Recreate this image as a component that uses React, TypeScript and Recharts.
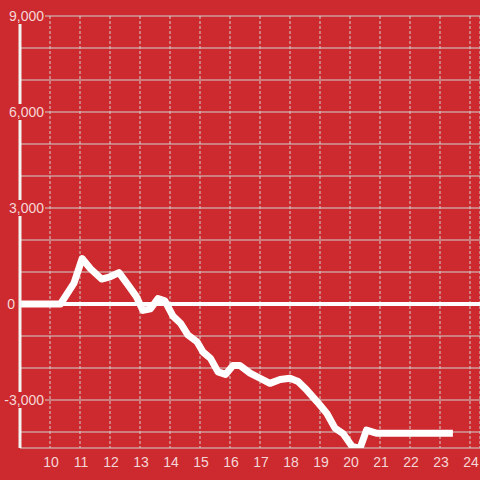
import React from 'react';
import { LineChart, Line, XAxis, YAxis, CartesianGrid, ReferenceLine } from 'recharts';

const xValues = [9, 10.35, 10.8, 11.07, 11.35, 11.72, 12.0, 12.3, 12.6, 12.88, 13.1, 13.35, 13.6, 13.83, 14.1, 14.35, 14.6, 14.9, 15.1, 15.35, 15.6, 15.85, 16.1, 16.33, 16.67, 17.0, 17.33, 17.67, 18.0, 18.27, 18.56, 18.9, 19.23, 19.5, 19.77, 20.07, 20.33, 20.55, 20.9, 23.43];
const yValues = [0, 0, 650, 1420, 1100, 780, 850, 980, 600, 230, -200, -150, 170, 100, -380, -600, -970, -1180, -1500, -1700, -2120, -2200, -1920, -1920, -2160, -2320, -2480, -2360, -2320, -2420, -2690, -3050, -3420, -3880, -4050, -4450, -4520, -3940, -4040, -4040];
const xTicks = [10, 11, 12, 13, 14, 15, 16, 17, 18, 19, 20, 21, 22, 23, 24];
const yGridTicks = [-4000, -3000, -2000, -1000, 0, 1000, 2000, 3000, 4000, 5000, 6000, 7000, 8000, 9000];
const yLabelTicks = [-3000, 0, 3000, 6000, 9000];

const data = xValues.map((x, i) => ({ x, v: yValues[i] }));

const BG = '#cc2a2e';
const TEXT = '#f5d6d6';
const GRID = '#d2d2d2';

const fmt = (v: number) => v.toLocaleString('en-US');

const YTick = (props: any) => {
  const { x, y, payload } = props;
  const v = payload.value;
  if (!yLabelTicks.includes(v)) return null;
  if (v === 0) {
    return (
      <text x={x - 5} y={y + 5} textAnchor="end" fill={TEXT} fontSize={14} fontFamily="Liberation Sans, Arial, sans-serif">0</text>
    );
  }
  return (
    <g>
      <rect x={x - 18} y={y - 8} width={43} height={16} fill={BG} />
      <text x={x + 24} y={y + 5} textAnchor="end" fill={TEXT} fontSize={14} fontFamily="Liberation Sans, Arial, sans-serif">{fmt(v)}</text>
    </g>
  );
};

const XTick = (props: any) => {
  const { x, y, payload } = props;
  return (
    <text x={x + 1} y={y + 19} textAnchor="middle" fill={TEXT} fontSize={14} fontFamily="Liberation Sans, Arial, sans-serif">{payload.value}</text>
  );
};

export default function App() {
  return (
    <div style={{ position: 'fixed', left: 0, top: 0, width: 480, height: 480, background: BG }}>
      <LineChart width={480} height={480} data={data} margin={{ top: 16, right: 0, left: 0, bottom: 0 }}>
        <CartesianGrid horizontal={true} vertical={false} stroke={GRID} strokeWidth={1} />
        <CartesianGrid horizontal={false} vertical={true} stroke={GRID} strokeWidth={1} strokeDasharray="3 2" />
        <XAxis dataKey="x" type="number" domain={[9, 24.3333]} ticks={xTicks} axisLine={false} tickLine={false} tickSize={0} tickMargin={0} height={32} tick={<XTick />} interval={0} allowDataOverflow />
        <YAxis type="number" domain={[-4500, 9000]} ticks={yGridTicks} width={20} axisLine={{ stroke: '#f2f2f2', strokeWidth: 3 }} tickLine={false} tickSize={0} tickMargin={0} tick={<YTick />} interval={0} allowDataOverflow />
        <ReferenceLine y={0} stroke="#ffffff" strokeWidth={4} />
        <Line type="linear" dataKey="v" stroke="#ffffff" strokeWidth={7} dot={false} strokeLinejoin="round" strokeLinecap="butt" isAnimationActive={false} />
      </LineChart>
    </div>
  );
}
